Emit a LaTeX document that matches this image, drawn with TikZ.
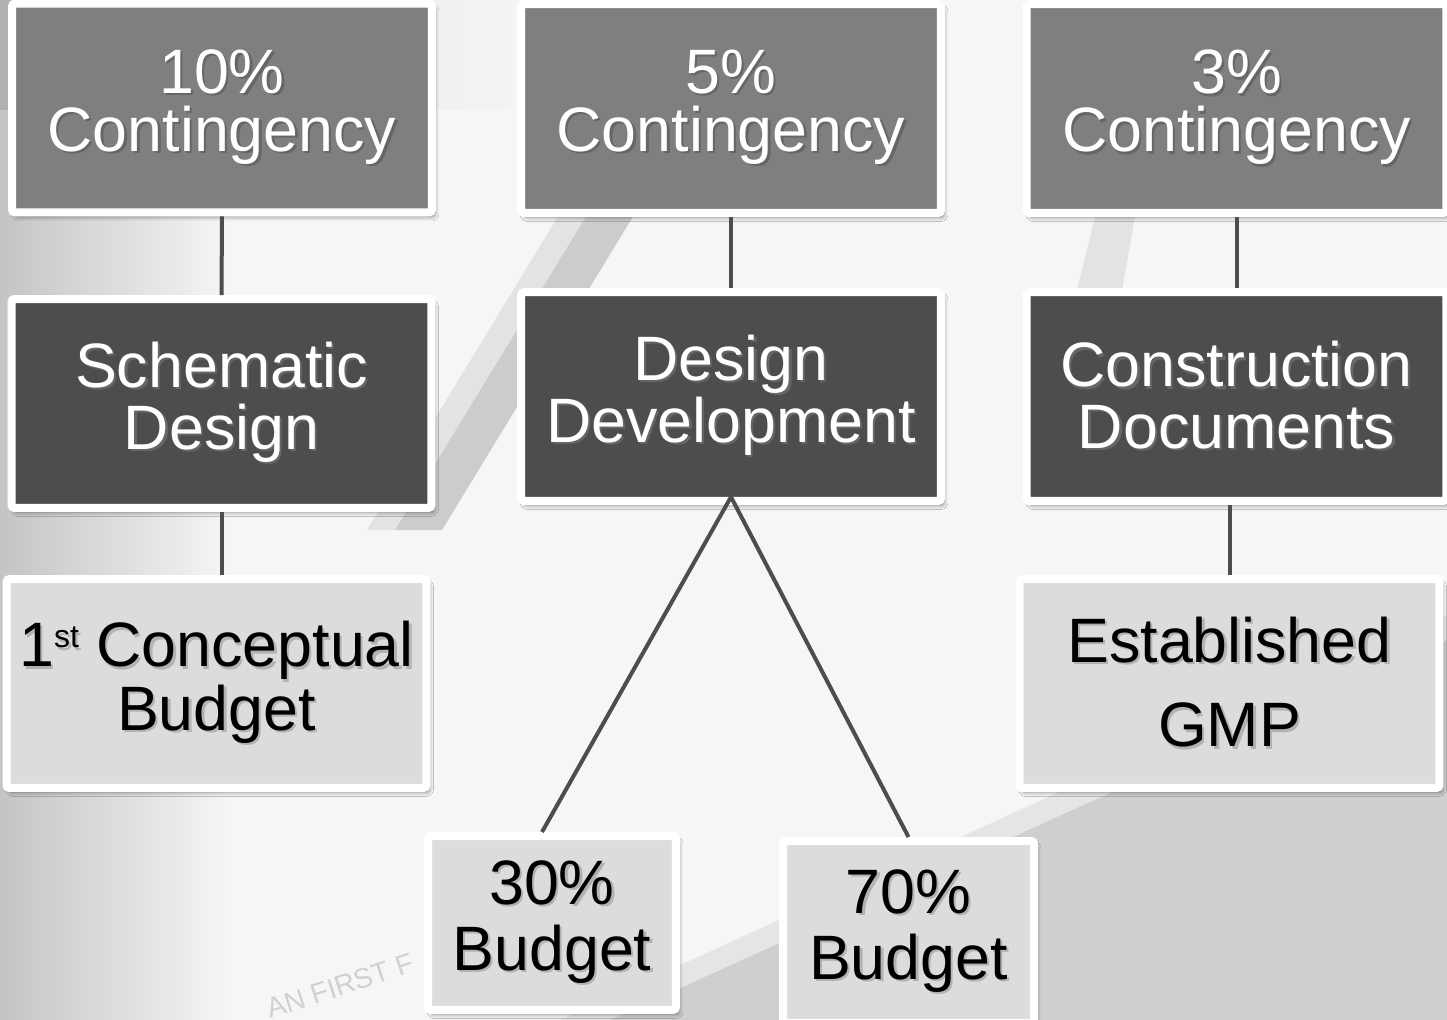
\documentclass[tikz,border=0pt]{standalone}
\usepackage{fontspec}
\setmainfont{Liberation Sans}
\usetikzlibrary{shadows.blur,fadings}
\definecolor{contgrey}{HTML}{7F7F7F}
\definecolor{phasegrey}{HTML}{4D4D4D}
\definecolor{budgetgrey}{HTML}{DCDCDC}
\definecolor{papergrey}{HTML}{F6F6F6}
% text with a small drop shadow behind it
\newcommand{\shtext}[2][black!60]{\leavevmode\rlap{\kern1.3pt\raisebox{-1.3pt}{\textcolor{#1}{#2}}}#2}
\newcommand{\sth}{\raisebox{10.8pt}{\fontsize{18.2}{18}\selectfont st}}
\tikzfading[name=fadeleft, left color=transparent!0, right color=transparent!100]
\tikzset{
planbox/.style={rectangle, draw=white, line width=0.16cm, rounded corners=0.06cm, inner sep=0pt, minimum width=8.4cm, minimum height=4.18cm, align=center, blur shadow={shadow xshift=0.06cm, shadow yshift=-0.09cm, shadow blur radius=0.08cm, shadow opacity=45}},
contboxv1/.style={planbox, fill=contgrey, text=white, font=\fontsize{35.7}{33}\selectfont},
phaseboxv1/.style={planbox, fill=phasegrey, text=white, font=\fontsize{35.7}{35.2}\selectfont},
budgetboxv1/.style={planbox, fill=budgetgrey, text=black, font=\fontsize{35.7}{36}\selectfont},
budgetboxv2/.style={budgetboxv1, minimum width=4.96cm, minimum height=3.48cm, font=\fontsize{35.7}{37.4}\selectfont},
linkline/.style={draw=phasegrey, line width=0.08cm},
}

\begin{document}
\begin{tikzpicture}[x=0.02cm, y=-0.02cm]
    \useasboundingbox (0,0) rectangle (1447,1020);
    \clip (0,0) rectangle (1447,1020);
    % paper in the background
    \fill[papergrey] (0,0) rectangle (1447,1020);
    \fill[black, opacity=0.2, path fading=fadeleft] (0,0) rectangle (230,1020);
    \fill[black, opacity=0.1, path fading=fadeleft] (0,0) rectangle (560,110);
    \fill[black!11] (690,0) -- (718,0) -- (395,530) -- (367,530) -- cycle;
    \fill[black!20] (718,0) -- (765,0) -- (442,530) -- (395,530) -- cycle;
    \fill[black!11] (1095,217) -- (1135,217) -- (1122,290) -- (1077,290) -- cycle;
    \fill[black!10] (560,1020) -- (1447,615) -- (1447,640) -- (610,1020) -- cycle;
    \fill[black!19] (610,1020) -- (1447,640) -- (1447,1020) -- cycle;
    \node[text=black!18, rotate=18, font=\fontsize{16}{16}\selectfont] at (340,986) (planlabel) {AN FIRST F};

    % contingency row
    \node[contboxv1] at (222,108) (c10) {\shtext{10\%}\\\shtext{Contingency}};
    \node[contboxv1] at (731,108.5) (c5) {\shtext{5\%}\\\shtext{Contingency}};
    \node[contboxv1] at (1236.5,108.5) (c3) {\shtext{3\%}\\\shtext{Contingency}};

    % phases
    \node[phaseboxv1] at (221.5,403.5) (sd) {\shtext{Schematic}\\\shtext{Design}};
    \node[phaseboxv1] at (731,396.5) (dd) {\shtext{Design}\\\shtext{Development}};
    \node[phaseboxv1] at (1236.5,396.5) (cd) {\shtext{Construction}\\\shtext{Documents}};

    % budgets
    \node[budgetboxv1] at (216.5,683.5) (cb) {\shtext[black!30]{1\sth{} Conceptual}\\\shtext[black!30]{Budget}};
    \node[budgetboxv1, font=\fontsize{35.7}{48}\selectfont] at (1229.5,683.5) (gmp) {\shtext[black!30]{Established}\\\shtext[black!30]{GMP}};
    \node[budgetboxv2] at (552,923) (b30) {\shtext[black!30]{30\%}\\\shtext[black!30]{Budget}};
    \node[budgetboxv2, minimum width=5.02cm, minimum height=3.64cm] at (908.5,932) (b70) {\shtext[black!30]{70\%}\\\shtext[black!30]{Budget}};

    \draw[linkline] (c10.south) -- (sd.north);
    \draw[linkline] (c5.south) -- (dd.north);
    \draw[linkline] (c3.south) -- (cd.north);
    \draw[linkline] (sd.south) -- (sd.south |- cb.north);
    \draw[linkline] (gmp.north |- cd.south) -- (gmp.north);
    \coordinate (apex) at ([yshift=0.16cm]dd.south);
    \draw[linkline] ([xshift=-0.2cm]b30.north) -- (apex) -- (b70.north);
\end{tikzpicture}
\end{document}
